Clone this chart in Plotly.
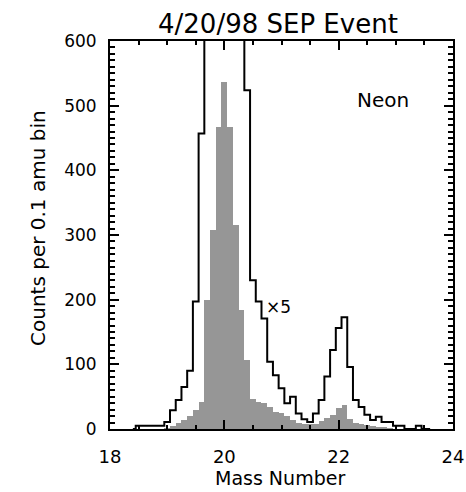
import numpy as np
import plotly.graph_objects as go

# Bin centres of the 0.1 amu mass histogram
mass = np.round(np.arange(18.4, 23.65, 0.1), 2)

# Counts per bin (grey histogram)
counts = [
    0, 0, 0, 0, 0, 0,            # 18.4 - 18.9
    1, 5, 9, 14, 20, 29, 41,     # 19.0 - 19.6
    199, 308, 467, 537, 467,     # 19.7 - 20.1
    315, 184, 107, 47, 42,       # 20.2 - 20.6
    40, 34, 27, 24, 20, 14,      # 20.7 - 21.2
    10, 8, 8, 8, 12, 17, 22,     # 21.3 - 21.9
    32, 37, 16, 9, 8, 6, 4,      # 22.0 - 22.6
    3, 2, 1, 0, 0, 0, 0,         # 22.7 - 23.3
    0, 0, 0,                     # 23.4 - 23.6
]

# Same spectrum multiplied by five (black outline, clipped at the top)
counts_x5 = [
    0, 5, 5, 5, 5, 5,                  # 18.4 - 18.9
    11, 29, 45, 65, 90, 197, 457,      # 19.0 - 19.6
    995, 1540, 2335, 2685, 2335,       # 19.7 - 20.1
    1575, 920, 524, 230, 197,          # 20.2 - 20.6
    171, 104, 83, 63, 40, 50,          # 20.7 - 21.2
    24, 15, 11, 24, 45, 81, 122,       # 21.3 - 21.9
    156, 173, 96, 45, 34, 22, 14,      # 22.0 - 22.6
    19, 11, 11, 5, 5, 0, 0,            # 22.7 - 23.3
    5, 0, 0,                           # 23.4 - 23.6
]

x_ticks = [18, 20, 22, 24]
y_ticks = [0, 100, 200, 300, 400, 500, 600]

FONT = "DejaVu Sans"

fig = go.Figure()

fig.add_trace(go.Bar(
    x=mass, y=counts, width=0.1,
    marker=dict(color="#969696", line=dict(width=0)),
    showlegend=False,
))

fig.add_trace(go.Scatter(
    x=mass, y=counts_x5, mode="lines",
    line=dict(color="black", width=2, shape="hvh"),
    showlegend=False,
))


def label(text, x, y, size, ref="paper", angle=0):
    return dict(text=text, x=x, y=y, xref=ref if ref == "paper" else "x",
                yref=ref if ref == "paper" else "y", showarrow=False,
                xanchor="center", yanchor="middle", textangle=angle,
                font=dict(size=size))


fig.update_layout(
    width=466, height=492,
    margin=dict(l=110, r=13, t=41, b=63, autoexpand=False),
    paper_bgcolor="white", plot_bgcolor="white",
    bargap=0,
    font=dict(family=FONT, color="black", size=16),
    annotations=[
        label("4/20/98 SEP Event", 0.491, 1.045, 26),
        label("Mass Number", 0.496, -0.127, 19),
        label("Counts per 0.1 amu bin", -0.21, 0.518, 20, angle=-90),
        label("Neon", 22.77, 508, 20, ref="data"),
        label("×5", 20.94, 189, 17, ref="data"),
    ],
)

fig.update_xaxes(
    range=[18, 24], tickvals=x_ticks, automargin=False,
    ticks="inside", ticklen=9, tickwidth=1.5, tickcolor="black",
    minor=dict(tick0=18, dtick=0.5, ticks="inside", ticklen=4,
               tickwidth=1.5, tickcolor="black"),
    showline=True, linewidth=2, linecolor="black", mirror="ticks",
    showgrid=False, zeroline=False, ticklabelstandoff=10,
    tickfont=dict(size=18),
)

fig.update_yaxes(
    range=[0, 600], tickvals=y_ticks, automargin=False,
    ticks="inside", ticklen=9, tickwidth=1.5, tickcolor="black",
    minor=dict(tick0=0, dtick=10, ticks="inside", ticklen=5,
               tickwidth=1.5, tickcolor="black"),
    showline=True, linewidth=2, linecolor="black", mirror="ticks",
    showgrid=False, zeroline=False, ticklabelstandoff=8,
    tickfont=dict(size=17),
)

fig.write_html("out.html")
